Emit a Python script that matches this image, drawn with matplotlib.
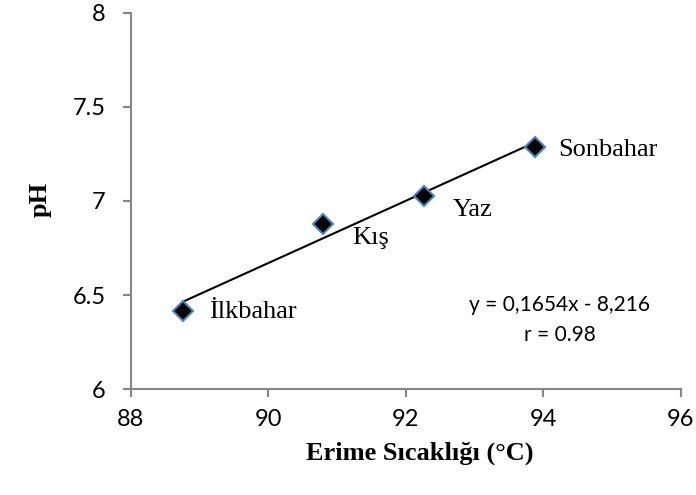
import numpy as np
from matplotlib import pyplot as plt

# melting point (°C) vs pH by season
seasons = ["İlkbahar", "Kış", "Yaz", "Sonbahar"]
melt_temp = [88.76, 90.79, 92.26, 93.88]
ph = [6.415, 6.878, 7.027, 7.287]

slope, intercept = 0.1654, -8.216
r_value = 0.98

x_ticks = [88, 90, 92, 94, 96]
y_ticks = [6, 6.5, 7, 7.5, 8]
y_tick_labels = ["6", "6.5", "7", "7.5", "8"]

axis_grey = "#868686"

fig = plt.figure(figsize=(6.96, 4.95), dpi=100)
ax = fig.add_axes([0.188, 0.214, 0.79, 0.76])

# trendline over the data range
xs = np.array([min(melt_temp), max(melt_temp)])
ax.plot(xs, slope * xs + intercept, color="black", lw=1.5, zorder=2)

ax.plot(melt_temp, ph, linestyle="none", marker="D", markersize=10,
        markerfacecolor="black", markeredgecolor="#4F81BD", markeredgewidth=1.5,
        zorder=3)

# season labels next to each point
offsets = {"İlkbahar": (18.5, -1), "Kış": (21.5, -10), "Yaz": (21, -10), "Sonbahar": (16.5, -2)}
for name, x, y in zip(seasons, melt_temp, ph):
    dx, dy = offsets[name]
    ax.annotate(name, (x, y), xytext=(dx, dy), textcoords="offset points",
                ha="left", va="center", fontsize=19, family="Liberation Serif")

eq_text = "y = {:.4f}x - {:.3f}".format(slope, -intercept).replace(".", ",")
ax.text(94.24, 6.447, eq_text, ha="center", va="center", fontsize=15, family="Lato")
ax.text(94.24, 6.287, "r = {}".format(r_value), ha="center", va="center",
        fontsize=15, family="Lato")

ax.set_xlim(88, 96)
ax.set_ylim(6, 8)
ax.set_xticks(x_ticks)
ax.set_yticks(y_ticks)
ax.set_yticklabels(y_tick_labels)
for lbl in ax.get_xticklabels() + ax.get_yticklabels():
    lbl.set_family("Lato")
    lbl.set_fontsize(17)

for side in ["top", "right"]:
    ax.spines[side].set_visible(False)
for side in ["left", "bottom"]:
    ax.spines[side].set_color(axis_grey)
    ax.spines[side].set_linewidth(1.5)
ax.tick_params(direction="out", length=6, width=1.5, color=axis_grey)
ax.tick_params(axis="x", pad=8)
ax.tick_params(axis="y", pad=12)

ax.set_xlabel("Erime Sıcaklığı (°C)", family="Liberation Serif", fontsize=19,
              fontweight="bold", va="center")
ax.xaxis.set_label_coords(0.525, -0.17)
ax.set_ylabel("pH", family="Liberation Serif", fontsize=19, fontweight="bold",
              va="center")
ax.yaxis.set_label_coords(-0.165, 0.503)

fig.savefig("out.png", dpi=100)
